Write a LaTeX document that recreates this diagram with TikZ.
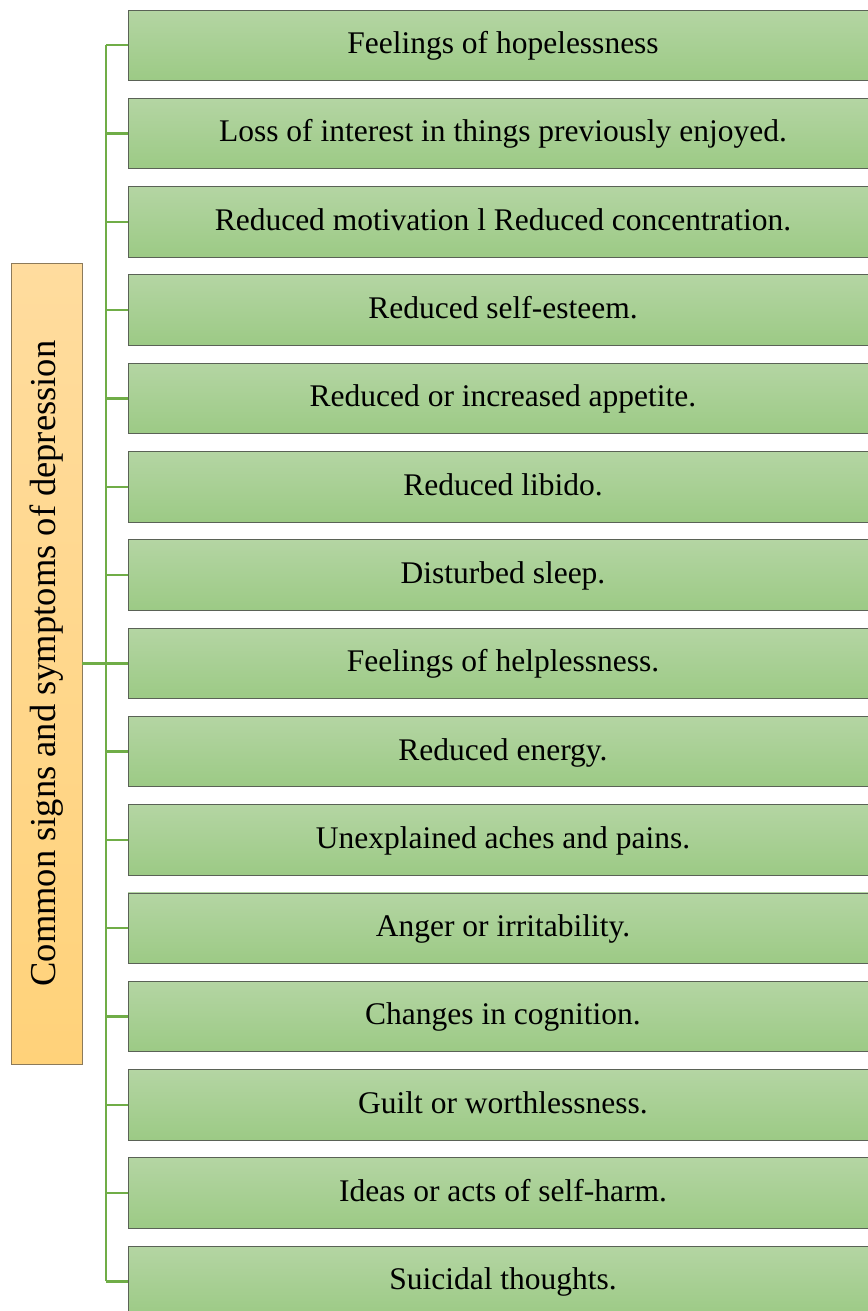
\documentclass[tikz,border=0pt]{standalone}
\usepackage{fontspec}
\setmainfont{Liberation Serif}
\usetikzlibrary{calc}
\definecolor{lineg}{HTML}{70AD47}
\definecolor{gtop}{HTML}{B4D5A3}
\definecolor{gbot}{HTML}{9CCA85}
\definecolor{otop}{HTML}{FFDC9E}
\definecolor{obot}{HTML}{FFD27A}
\definecolor{gedge}{HTML}{5A6256}
\definecolor{oedge}{HTML}{8C7A5A}
\tikzset{
  symbox/.style={draw=gedge, line width=0.9pt, top color=gtop, bottom color=gbot,
    minimum width=750pt, minimum height=70.5pt, inner sep=0pt,
    font=\fontsize{31.5}{36}\selectfont, text height=18.4pt, text depth=1.6pt},
  rootbox/.style={draw=oedge, line width=0.9pt, top color=otop, bottom color=obot,
    minimum width=71pt, minimum height=801pt, inner sep=0pt,
    font=\fontsize{36.5}{40}\selectfont},
  conn/.style={draw=lineg, line width=2.4pt}
}
\begin{document}
\begin{tikzpicture}[x=1pt,y=-1pt]
\useasboundingbox (0,0) rectangle (867,1311);
\node[rootbox] (root) at (46.5,663.5) {\rotatebox{90}{Common signs and symptoms of depression}};
\coordinate (spine) at (106,0);
\foreach \t [count=\i] in {
  {Feelings of hopelessness},
  {Loss of interest in things previously enjoyed.},
  {Reduced motivation l Reduced concentration.},
  {Reduced self-esteem.},
  {Reduced or increased appetite.},
  {Reduced libido.},
  {Disturbed sleep.},
  {Feelings of helplessness.},
  {Reduced energy.},
  {Unexplained aches and pains.},
  {Anger or irritability.},
  {Changes in cognition.},
  {Guilt or worthlessness.},
  {Ideas or acts of self-harm.},
  {Suicidal thoughts.}}
{
  \node[symbox] (b\i) at (503, {45.3 + (\i-1)*88.29}) {\t};
}
\draw[conn] (b1.west -| spine) -- (b15.west -| spine);
\foreach \i in {1,...,15} {
  \draw[conn] (b\i.west) -- (b\i.west -| spine);
}
\draw[conn] (root.east) -- (root.east -| spine);
\end{tikzpicture}
\end{document}
